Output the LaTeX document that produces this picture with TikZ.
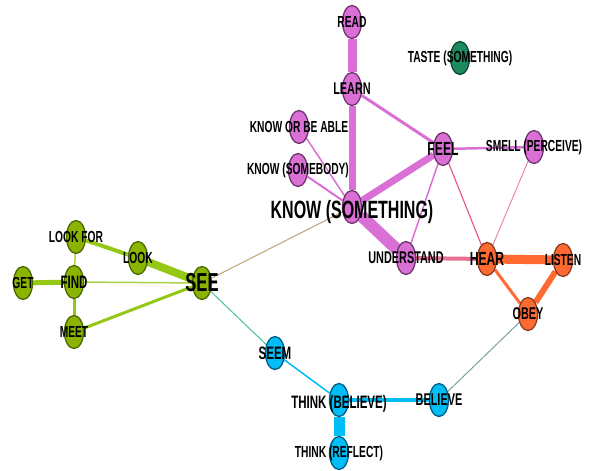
\documentclass[tikz,border=0pt]{standalone}
\usepackage{fontspec}
\newfontfamily\wordfont{Liberation Sans}[FakeStretch=0.64]
\usetikzlibrary{shapes.geometric,backgrounds}

\definecolor{orchidfill}{RGB}{218,112,214}
\definecolor{orchidline}{RGB}{112,52,108}
\definecolor{limefill}{RGB}{138,180,0}
\definecolor{limeline}{RGB}{74,104,0}
\definecolor{limeedge}{RGB}{148,200,20}
\definecolor{tangerinefill}{RGB}{255,106,51}
\definecolor{tangerineline}{RGB}{138,58,30}
\definecolor{skyfill}{RGB}{0,190,245}
\definecolor{skyline}{RGB}{0,92,130}
\definecolor{seafill}{RGB}{28,138,94}
\definecolor{sealine}{RGB}{10,76,50}
\definecolor{rosepink}{RGB}{234,112,150}
\definecolor{rosered}{RGB}{228,90,120}
\definecolor{tanline}{RGB}{186,164,122}
\definecolor{tealline}{RGB}{76,192,150}
\definecolor{slateline}{RGB}{126,158,166}

\begin{document}
\begin{tikzpicture}[
    x=1pt, y=-1pt,
    word/.style={ellipse, draw, line width=1.3pt, minimum width=19pt, minimum height=33pt, inner sep=0pt},
    knowgrp/.style={word, fill=orchidfill, draw=orchidline},
    seegrp/.style={word, fill=limefill, draw=limeline},
    heargrp/.style={word, fill=tangerinefill, draw=tangerineline},
    thinkgrp/.style={word, fill=skyfill, draw=skyline},
    tastegrp/.style={word, fill=seafill, draw=sealine},
    lbl/.style={font=\wordfont\bfseries\fontsize{#1}{#1}\selectfont, inner sep=0pt},
    link/.style={line width=#1}
]
\useasboundingbox (0,0) rectangle (590,471);

% purple group
\node[knowgrp, label={[lbl=16]center:READ}] (read) at (352,22) {};
\node[knowgrp, label={[lbl=17]center:LEARN}] (learn) at (352,89) {};
\node[knowgrp, label={[lbl=16]center:KNOW OR BE ABLE}] (koba) at (299,127) {};
\node[knowgrp, label={[lbl=16]center:KNOW (SOMEBODY)}] (ksomebody) at (298,170) {};
\node[knowgrp, label={[lbl=19]center:FEEL}] (feel) at (443,149) {};
\node[knowgrp, label={[lbl=16]center:SMELL (PERCEIVE)}] (smell) at (534,147) {};
\node[knowgrp, label={[lbl=25, yshift=-5pt]center:KNOW (SOMETHING)}] (ksomething) at (352,207) {};
\node[knowgrp, label={[lbl=17]center:UNDERSTAND}] (understand) at (406,258) {};
\node[tastegrp, label={[lbl=16]center:TASTE (SOMETHING)}] (taste) at (460,58) {};

% orange group
\node[heargrp, label={[lbl=19]center:HEAR}] (hear) at (487,259) {};
\node[heargrp, label={[lbl=16]center:LISTEN}] (listen) at (563,260) {};
\node[heargrp, label={[lbl=17]center:OBEY}] (obey) at (528,314) {};

% blue group
\node[thinkgrp, label={[lbl=18]center:SEEM}] (seem) at (275,353) {};
\node[thinkgrp, label={[lbl=18, yshift=-4pt]center:THINK (BELIEVE)}] (thinkb) at (339,400) {};
\node[thinkgrp, label={[lbl=17]center:BELIEVE}] (believe) at (439,400) {};
\node[thinkgrp, label={[lbl=16]center:THINK (REFLECT)}] (thinkr) at (339,453) {};

% green group
\node[seegrp, label={[lbl=26]center:SEE}] (see) at (202,283) {};
\node[seegrp, label={[lbl=16]center:LOOK}] (look) at (138,258) {};
\node[seegrp, label={[lbl=16]center:LOOK FOR}] (lookfor) at (76,237) {};
\node[seegrp, label={[lbl=18]center:FIND}] (find) at (74,282) {};
\node[seegrp, label={[lbl=16]center:GET}] (get) at (23,283) {};
\node[seegrp, label={[lbl=16]center:MEET}] (meet) at (74,332) {};

\begin{scope}[on background layer]
\draw[link=9, orchidfill] (read) -- (learn);
\draw[link=7, orchidfill] (learn) -- (ksomething);
\draw[link=3, orchidfill] (learn) -- (feel);
\draw[link=1.5, orchidfill] (koba) -- (ksomething);
\draw[link=2, orchidfill] (ksomebody) -- (ksomething);
\draw[link=7, orchidfill] (ksomething) -- (feel);
\draw[link=12, orchidfill] (ksomething) -- (understand);
\draw[link=1.5, orchidfill] (feel) -- (understand);
\draw[link=2.5, orchidfill] (feel) -- (smell);
\draw[link=1.2, rosered] (feel) -- (hear);
\draw[link=0.8, rosepink] (smell) -- (hear);
\draw[link=4, rosepink] (understand) -- (hear);
\draw[link=9, tangerinefill] (hear) -- (listen);
\draw[link=3, tangerinefill] (hear) -- (obey);
\draw[link=6, tangerinefill] (listen) -- (obey);
\draw[link=1, slateline] (obey) -- (believe);
\draw[link=4, skyfill] (believe) -- (thinkb);
\draw[link=1.5, skyfill] (seem) -- (thinkb);
\draw[link=11, skyfill] (thinkb) -- (thinkr);
\draw[link=1, tealline] (see) -- (seem);
\draw[link=1, tanline] (see) -- (ksomething);
\draw[link=8, limeedge] (see) -- (look);
\draw[link=4, limeedge] (look) -- (lookfor);
\draw[link=1.5, limeedge!80!white] (see) -- (find);
\draw[link=3, limeedge] (see) -- (meet);
\draw[link=5, limeedge] (find) -- (get);
\draw[link=1.5, limeedge!80!white] (find) -- (lookfor);
\draw[link=3, limeedge] (find) -- (meet);
\end{scope}
\end{tikzpicture}
\end{document}
